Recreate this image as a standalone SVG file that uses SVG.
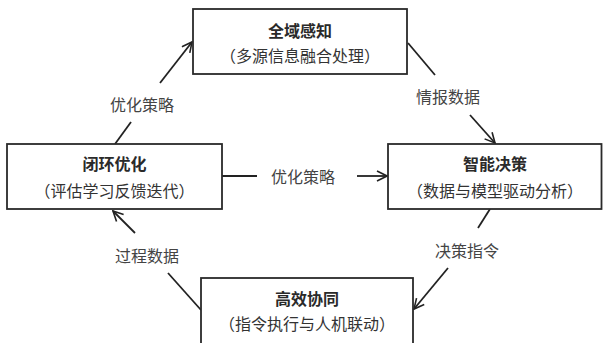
<svg xmlns="http://www.w3.org/2000/svg" width="604" height="343" viewBox="0 0 604 343">
<defs>
<marker id="ah" viewBox="0 0 12 12" refX="11" refY="6" markerWidth="12" markerHeight="12" markerUnits="userSpaceOnUse" orient="auto">
<polyline points="1,1 11,6 1,11" fill="none" stroke="#222" stroke-width="1.6"/>
</marker>
<style>
.box{fill:#fff;stroke:#2a2a2a;stroke-width:1.8}
.t{font-family:"Noto Sans CJK SC","Noto Sans CJK JP",sans-serif;font-size:16px;font-weight:bold;fill:#2a2a2a;text-anchor:middle;dominant-baseline:central}
.s{font-family:"Noto Sans CJK SC","Noto Sans CJK JP",sans-serif;font-size:16px;fill:#333;text-anchor:middle;dominant-baseline:central}
.l{font-family:"Noto Sans CJK SC","Noto Sans CJK JP",sans-serif;font-size:16px;fill:#444;text-anchor:middle;dominant-baseline:central}
.c{fill:none;stroke:#222;stroke-width:1.8}
</style>
</defs>
<rect width="604" height="343" fill="#fff"/>
<g id="connectors">
<line class="c" x1="115" y1="144" x2="131" y2="122"/>
<line class="c" x1="160" y1="83" x2="192" y2="42" marker-end="url(#ah)"/>
<text class="l" x="142" y="104">优化策略</text>
<line class="c" x1="408" y1="43" x2="435" y2="75"/>
<line class="c" x1="470" y1="115" x2="495" y2="143" marker-end="url(#ah)"/>
<text class="l" x="448" y="96">情报数据</text>
<line class="c" x1="222" y1="176" x2="257" y2="176"/>
<line class="c" x1="357" y1="176" x2="387" y2="176" marker-end="url(#ah)"/>
<text class="l" x="303" y="176">优化策略</text>
<line class="c" x1="490" y1="209" x2="478" y2="228"/>
<line class="c" x1="448" y1="268" x2="414" y2="309" marker-end="url(#ah)"/>
<text class="l" x="467" y="250">决策指令</text>
<line class="c" x1="201" y1="310" x2="168" y2="273"/>
<line class="c" x1="135" y1="233" x2="113" y2="211" marker-end="url(#ah)"/>
<text class="l" x="147" y="255">过程数据</text>
</g>
<g id="node-top">
<rect class="box" x="193" y="9" width="214" height="65"/>
<text class="t" x="300" y="30">全域感知</text>
<text class="s" x="300" y="55">（多源信息融合处理）</text>
</g>
<g id="node-left">
<rect class="box" x="7" y="144" width="215" height="65"/>
<text class="t" x="114.5" y="163">闭环优化</text>
<text class="s" x="114.5" y="190">（评估学习反馈迭代）</text>
</g>
<g id="node-right">
<rect class="box" x="388" y="144" width="213.5" height="65"/>
<text class="t" x="495" y="163">智能决策</text>
<text class="s" x="495" y="190">（数据与模型驱动分析）</text>
</g>
<g id="node-bottom">
<rect class="box" x="201" y="278" width="212" height="80"/>
<text class="t" x="307" y="298">高效协同</text>
<text class="s" x="307" y="323">（指令执行与人机联动）</text>
</g>
</svg>
